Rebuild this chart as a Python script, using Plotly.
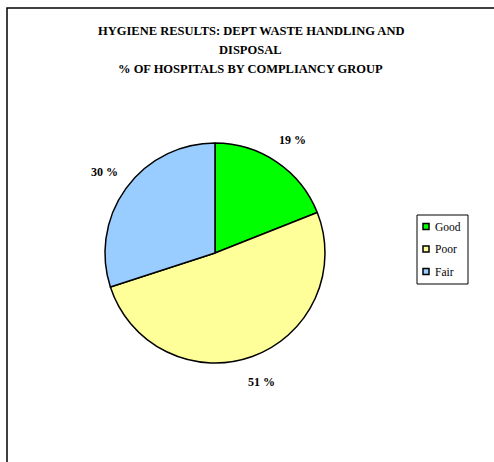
import math
import plotly.graph_objects as go

categories = ["Good", "Poor", "Fair"]
values = [19, 51, 30]
colors = ["#00FF00", "#FFFF99", "#99CCFF"]
title_lines = [
    "HYGIENE RESULTS: DEPT WASTE HANDLING AND",
    "DISPOSAL",
    "% OF HOSPITALS BY COMPLIANCY GROUP",
]

W, H = 494, 462
cx, cy, r = 215, 253, 110
label_r = 137


def px(x):
    return x / W


def py(y):
    return 1 - y / H


fig = go.Figure(go.Pie(
    labels=categories,
    values=values,
    sort=False,
    direction="clockwise",
    rotation=0,
    marker=dict(colors=colors, line=dict(color="black", width=1.5)),
    textinfo="none",
    hoverinfo="label+percent",
    showlegend=False,
    domain=dict(x=[px(cx - r), px(cx + r)], y=[py(cy + r), py(cy - r)]),
))

# percentage labels outside the slices
total = sum(values)
cum = 0
for v in values:
    mid = (cum + v / 2) / total * 2 * math.pi
    cum += v
    lx = cx + label_r * math.sin(mid)
    ly = cy - label_r * math.cos(mid)
    fig.add_annotation(
        text=f"{round(v / total * 100)} %", xref="paper", yref="paper",
        x=px(lx), y=py(ly), xanchor="center", yanchor="middle", showarrow=False,
        font=dict(family="Liberation Serif", size=12, color="black", weight="bold"),
    )

# title
for i, line in enumerate(title_lines):
    fig.add_annotation(
        text=line, xref="paper", yref="paper", x=px(251), y=py(31 + 19 * i),
        xanchor="center", yanchor="middle", showarrow=False,
        font=dict(family="Liberation Serif", size=12.5, color="black", weight="bold"),
    )

# outer chart border
fig.add_shape(type="rect", xref="paper", yref="paper",
              x0=px(7), x1=1.05, y0=-0.05, y1=py(8),
              line=dict(color="black", width=1.5), layer="below")

# legend box
fig.add_shape(type="rect", xref="paper", yref="paper",
              x0=px(417), x1=px(468), y0=py(284), y1=py(215),
              line=dict(color="black", width=1), fillcolor="white")
for i, (cat, col) in enumerate(zip(categories, colors)):
    yc = 226.5 + 22.5 * i
    fig.add_shape(type="rect", xref="paper", yref="paper",
                  x0=px(423), x1=px(429), y0=py(yc + 3), y1=py(yc - 3),
                  line=dict(color="black", width=1.5), fillcolor=col)
    fig.add_annotation(
        text=cat, xref="paper", yref="paper", x=px(433), y=py(yc),
        xanchor="left", yanchor="middle", showarrow=False,
        font=dict(family="Liberation Serif", size=11.5, color="black"),
    )

fig.update_layout(
    width=W, height=H,
    margin=dict(l=0, r=0, t=0, b=0),
    paper_bgcolor="white",
    plot_bgcolor="white",
    showlegend=False,
)

fig.write_html("out.html", config={"displayModeBar": False},
               post_script="document.body.style.margin='0';")
